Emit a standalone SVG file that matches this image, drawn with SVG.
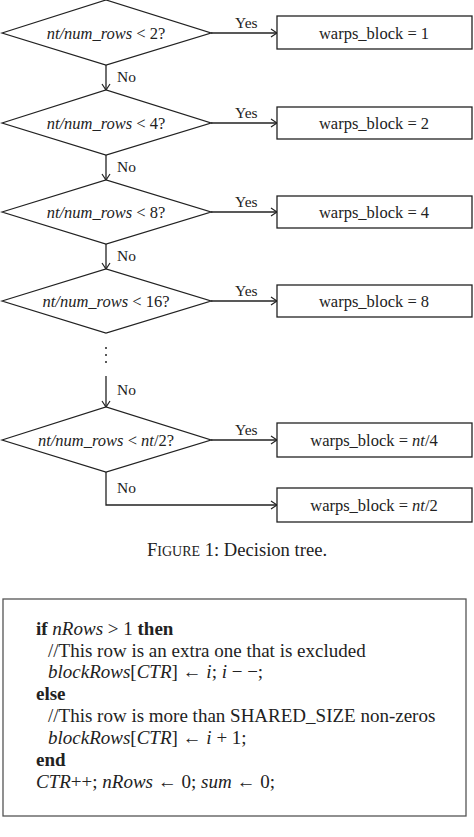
<svg xmlns="http://www.w3.org/2000/svg" width="474" height="837" viewBox="0 0 474 837">
<style>
  .shape { fill: #fff; stroke: #222; stroke-width: 1.3; }
  .line { fill: none; stroke: #222; stroke-width: 1.3; }
  text { font-family: "Liberation Serif", "Times New Roman", serif; fill: #222; }
  .lbl { font-size: 15.5px; }
  .node { font-size: 16.5px; text-anchor: middle; }
  .code { font-size: 19px; }
  .it { font-style: italic; }
  .b { font-weight: bold; }
</style>
<defs>
  <marker id="arr" markerWidth="10" markerHeight="10" refX="9" refY="5" orient="auto" markerUnits="userSpaceOnUse">
    <path d="M3,1 L9,5 L3,9" fill="none" stroke="#222" stroke-width="1.2"/>
  </marker>
</defs>
<rect width="474" height="837" fill="#fff"/>

<g id="connectors">
  <line class="line" x1="211" y1="33" x2="277" y2="33" marker-end="url(#arr)"/>
  <line class="line" x1="211" y1="123" x2="277" y2="123" marker-end="url(#arr)"/>
  <line class="line" x1="211" y1="212" x2="277" y2="212" marker-end="url(#arr)"/>
  <line class="line" x1="211" y1="301" x2="277" y2="301" marker-end="url(#arr)"/>
  <line class="line" x1="211" y1="440" x2="277" y2="440" marker-end="url(#arr)"/>
  <line class="line" x1="106" y1="65" x2="106" y2="90" marker-end="url(#arr)"/>
  <line class="line" x1="106" y1="155" x2="106" y2="180" marker-end="url(#arr)"/>
  <line class="line" x1="106" y1="244" x2="106" y2="269" marker-end="url(#arr)"/>
  <line class="line" x1="106" y1="376" x2="106" y2="407" marker-end="url(#arr)"/>
  <polyline class="line" points="106,472 106,505 277,505" marker-end="url(#arr)"/>
  <circle cx="106" cy="348" r="1" fill="#222"/>
  <circle cx="106" cy="355" r="1" fill="#222"/>
  <circle cx="106" cy="362" r="1" fill="#222"/>
  <text class="lbl" x="235" y="28">Yes</text>
  <text class="lbl" x="235" y="118">Yes</text>
  <text class="lbl" x="235" y="207">Yes</text>
  <text class="lbl" x="235" y="296">Yes</text>
  <text class="lbl" x="235" y="435">Yes</text>
  <text class="lbl" x="117" y="82">No</text>
  <text class="lbl" x="117" y="172">No</text>
  <text class="lbl" x="117" y="261">No</text>
  <text class="lbl" x="117" y="395">No</text>
  <text class="lbl" x="117" y="493">No</text>
</g>

<g id="d1">
  <polygon class="shape" points="2,33 106,0 211,33 106,65"/>
  <text class="node" x="106" y="38.5"><tspan class="it">nt/num_rows</tspan> &lt; 2?</text>
</g>
<g id="d2">
  <polygon class="shape" points="2,123 106,90 211,123 106,155"/>
  <text class="node" x="106" y="128.5"><tspan class="it">nt/num_rows</tspan> &lt; 4?</text>
</g>
<g id="d3">
  <polygon class="shape" points="2,212 106,180 211,212 106,244"/>
  <text class="node" x="106" y="217.5"><tspan class="it">nt/num_rows</tspan> &lt; 8?</text>
</g>
<g id="d4">
  <polygon class="shape" points="2,301 106,269 211,301 106,333"/>
  <text class="node" x="106" y="306.5"><tspan class="it">nt/num_rows</tspan> &lt; 16?</text>
</g>
<g id="d5">
  <polygon class="shape" points="2,440 106,407 211,440 106,472"/>
  <text class="node" x="106" y="445.5"><tspan class="it">nt/num_rows</tspan> &lt; <tspan class="it">nt</tspan>/2?</text>
</g>

<g id="b1">
  <rect class="shape" x="277" y="16" width="195" height="33"/>
  <text class="node" x="374" y="38.5">warps_block = 1</text>
</g>
<g id="b2">
  <rect class="shape" x="277" y="107" width="195" height="32"/>
  <text class="node" x="374" y="128.5">warps_block = 2</text>
</g>
<g id="b3">
  <rect class="shape" x="277" y="196" width="195" height="32"/>
  <text class="node" x="374" y="217.5">warps_block = 4</text>
</g>
<g id="b4">
  <rect class="shape" x="277" y="285" width="195" height="32"/>
  <text class="node" x="374" y="306.5">warps_block = 8</text>
</g>
<g id="b5">
  <rect class="shape" x="277" y="423" width="195" height="34"/>
  <text class="node" x="374" y="445.5">warps_block = <tspan class="it">nt</tspan>/4</text>
</g>
<g id="b6">
  <rect class="shape" x="277" y="488" width="195" height="34"/>
  <text class="node" x="374" y="510.5">warps_block = <tspan class="it">nt</tspan>/2</text>
</g>

<g id="caption">
  <text x="237" y="556" text-anchor="middle" style="font-size:18.6px">F<tspan style="font-size:14px">IGURE</tspan> 1: Decision tree.</text>
</g>

<g id="algorithm">
  <rect x="3" y="599" width="463" height="217" fill="#fff" stroke="#555" stroke-width="1.3"/>
  <text class="code" x="36" y="635"><tspan class="b">if</tspan> <tspan class="it">nRows</tspan> &gt; 1 <tspan class="b">then</tspan></text>
  <text class="code" x="48" y="656.5">//This row is an extra one that is excluded</text>
  <text class="code" x="48" y="678"><tspan class="it">blockRows</tspan>[<tspan class="it">CTR</tspan>] ← <tspan class="it">i</tspan>; <tspan class="it">i</tspan> − −;</text>
  <text class="code" x="36" y="699.5"><tspan class="b">else</tspan></text>
  <text class="code" x="48" y="722">//This row is more than SHARED_SIZE non-zeros</text>
  <text class="code" x="48" y="744"><tspan class="it">blockRows</tspan>[<tspan class="it">CTR</tspan>] ← <tspan class="it">i</tspan> + 1;</text>
  <text class="code" x="36" y="766"><tspan class="b">end</tspan></text>
  <text class="code" x="36" y="787.5"><tspan class="it">CTR</tspan>++; <tspan class="it">nRows</tspan> ← 0; <tspan class="it">sum</tspan> ← 0;</text>
</g>
</svg>
